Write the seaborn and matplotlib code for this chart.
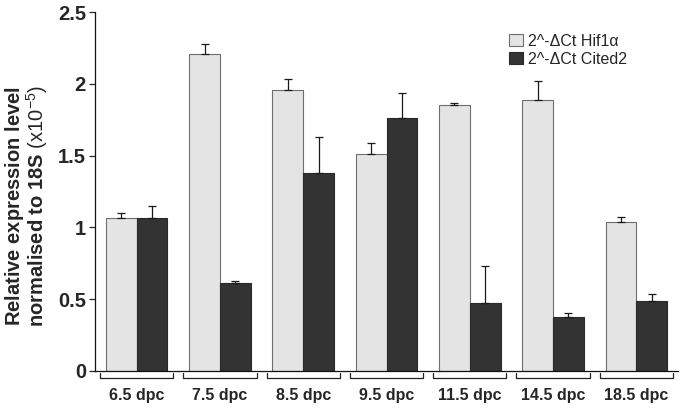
import pandas as pd
import matplotlib
matplotlib.use("Agg")
import matplotlib.pyplot as plt
import seaborn as sns

# Values
stages = ["6.5 dpc", "7.5 dpc", "8.5 dpc", "9.5 dpc", "11.5 dpc", "14.5 dpc", "18.5 dpc"]
hif1a_mean = [1.063, 2.205, 1.959, 1.509, 1.850, 1.887, 1.038]
hif1a_err = [0.035, 0.072, 0.072, 0.077, 0.018, 0.133, 0.032]
cited2_mean = [1.063, 0.611, 1.379, 1.764, 0.471, 0.376, 0.485]
cited2_err = [0.086, 0.014, 0.251, 0.170, 0.262, 0.028, 0.053]
series_names = ["2^-\u0394Ct Hif1\u03b1", "2^-\u0394Ct Cited2"]
y_ticks = [0, 0.5, 1, 1.5, 2, 2.5]
y_tick_labels = ["0", "0.5", "1", "1.5", "2", "2.5"]

sns.set_style("ticks")
plt.rcParams["font.family"] = ["Liberation Sans", "DejaVu Sans"]
plt.rcParams["mathtext.fontset"] = "custom"
plt.rcParams["mathtext.rm"] = "Liberation Sans"
plt.rcParams["mathtext.bf"] = "Liberation Sans:bold"
plt.rcParams["mathtext.it"] = "Liberation Sans:italic"

df = pd.DataFrame({
    "stage": stages * 2,
    "value": hif1a_mean + cited2_mean,
    "series": [series_names[0]] * len(stages) + [series_names[1]] * len(stages),
})

light = "#e4e4e4"
dark = "#333333"

fig = plt.figure(figsize=(6.85, 4.08), dpi=100)
ax = fig.add_axes([95 / 685, 1 - 371 / 408, (678 - 95) / 685, (371 - 12) / 408])

sns.barplot(data=df, x="stage", y="value", hue="series", palette=[light, dark],
            width=0.74, linewidth=0.8, ax=ax, legend=False)

# edge colours per series
edge_colors = ["#6e6e6e", "#2a2a2a"]
for cont, ec in zip(ax.containers, edge_colors):
    for p in cont:
        p.set_edgecolor(ec)

# upper-only error bars
for cont, errs in zip(list(ax.containers), [hif1a_err, cited2_err]):
    xs = [p.get_x() + p.get_width() / 2 for p in cont]
    hs = [p.get_height() for p in cont]
    ax.errorbar(xs, hs, yerr=[[0] * len(errs), errs], fmt="none", ecolor="#1a1a1a",
                elinewidth=0.9, capsize=3, capthick=0.9, zorder=3)

ax.set_ylim(0, 2.5)
ax.set_xlim(-0.5, len(stages) - 0.5)
ax.set_yticks(y_ticks)
ax.set_yticklabels(y_tick_labels, fontsize=14.5, fontweight="bold")
ax.set_xticks(range(len(stages)))
ax.set_xticklabels(stages, fontsize=11.5, fontweight="bold")
ax.tick_params(axis="x", length=0, pad=12)
ax.tick_params(axis="y", direction="out", length=4.5, width=0.9, pad=2)
ax.set_xlabel("")
ax.set_ylabel(r"$\mathbf{Relative\ expression\ level}$" + "\n"
              + r"$\mathbf{normalised\ to\ 18S}$ (x10$^{-5}$)",
              fontsize=14.5, linespacing=0.9)
ax.yaxis.set_label_coords(-0.077, 0.46)

sns.despine(ax=ax, top=True, right=True)
for s in ["left", "bottom"]:
    ax.spines[s].set_linewidth(0.9)
    ax.spines[s].set_color("#111111")

# group brackets under the x axis
for i in range(len(stages)):
    ax.plot([i - 0.44, i - 0.44, i + 0.44, i + 0.44], [-0.006, -0.02, -0.02, -0.006],
            transform=ax.get_xaxis_transform(), clip_on=False, color="#222222", lw=0.9)

handles = [ax.containers[0][0], ax.containers[1][0]]
ax.legend(handles, series_names, loc="upper left", bbox_to_anchor=(0.71, 0.94),
          frameon=False, fontsize=11.5, handlelength=0.85, handleheight=0.8,
          handletextpad=0.35, labelspacing=0.2, borderpad=0, borderaxespad=0)

fig.savefig("out.png", dpi=100)
